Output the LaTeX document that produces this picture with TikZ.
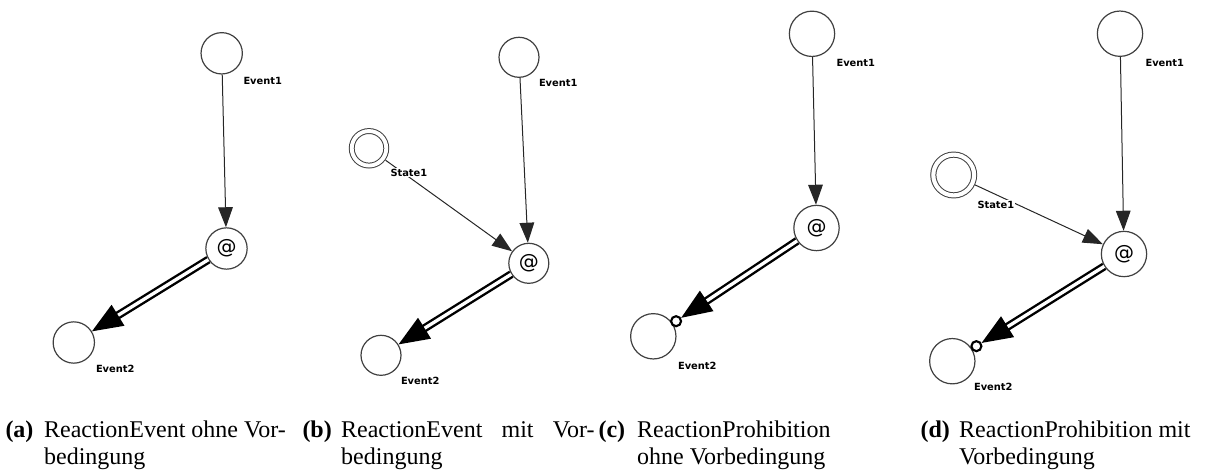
\documentclass[tikz,border=0pt]{standalone}
\usepackage{fontspec}
\setmainfont{Liberation Serif}
\newfontfamily\lblfont{DejaVu Sans}
\usetikzlibrary{arrows.meta,calc}

\tikzset{every picture/.style={line width=0.75pt}}
\tikzset{
  evt/.style={circle, draw=black!75, line width=0.9pt, minimum size=#1, inner sep=0pt},
  stt/.style 2 args={circle, draw=black!75, line width=0.75pt, double, double distance=#2, minimum size=#1, inner sep=0pt},
  atnode/.style={evt=#1, font=\lblfont\fontsize{15}{15}\selectfont},
  knob/.style={circle, draw, line width=1.6pt, fill=white, minimum size=7.5pt, inner sep=0pt},
  lbl/.style={anchor=west, inner sep=0.75pt, fill=white, font=\lblfont\bfseries\fontsize{7.4}{8}\selectfont},
  trig/.style={-{Triangle[length=15pt,width=11pt]}, line width=0.75pt, black!85},
  react/.style={double, double distance=2.5pt, line width=1.8pt, -{Triangle[length=23pt,width=18pt]}},
  capt/.style={anchor=base west, inner sep=0pt, font=\fontsize{18}{20.25}\selectfont},
}
\newcommand{\subtag}[1]{\makebox[29pt][l]{\textbf{(#1)}}}

\begin{document}
\begin{tikzpicture}[x=0.75pt,y=0.75pt,yscale=-1,xscale=1]
\useasboundingbox (0,0) rectangle (1205,471);

%Panel (a)
\node[evt=31pt] (e1a) at (221.7,53.3) {};
\node[atnode=31pt] (ata) at (226.5,248.5) {@};
\node[evt=31pt] (e2a) at (73.8,342.5) {};
\draw[trig] (e1a) -- (ata);
\draw[react] (ata) -- (e2a);
% Text Node
\node[lbl] (l1a) at (242,80.5) {Event1};
\node[lbl] (l2a) at (94.5,369) {Event2};

%Panel (b)
\node[evt=30pt] (e1b) at (519,57.3) {};
\node[stt={25.9pt}{2.9pt}] (s1b) at (369,148.3) {};
\node[atnode=30pt] (atb) at (528.8,263.3) {@};
\node[evt=30pt] (e2b) at (381,355.3) {};
\draw[trig] (e1b) -- (atb);
\draw[trig, shorten <=2pt] (s1b) -- (atb);
\draw[react] (atb) -- (e2b);
% Text Node
\node[lbl] (l1b) at (537.5,83) {Event1};
\node[lbl] (ls1b) at (389,172.5) {State1};
\node[lbl] (l2b) at (399.5,381) {Event2};

%Panel (c)
\node[evt=34pt] (e1c) at (812,33.8) {};
\node[atnode=34pt] (atc) at (816.5,228) {@};
\node[evt=34pt] (e2c) at (653.3,336.3) {};
\node[knob] (kc) at ($(e2c)!20.5pt!(atc)$) {};
\draw[trig] (e1c) -- (atc);
\draw[react] (atc) -- (kc);
% Text Node
\node[lbl] (l1c) at (835,63) {Event1};
\node[lbl] (l2c) at (676.5,365.7) {Event2};

%Panel (d)
\node[evt=34pt] (e1d) at (1120,33.7) {};
\node[stt={30.6pt}{3.1pt}] (s1d) at (953.7,175) {};
\node[atnode=34pt] (atd) at (1124,254) {@};
\node[evt=34pt] (e2d) at (952.3,361.2) {};
\node[knob] (kd) at ($(e2d)!21.3pt!(atd)$) {};
\draw[trig] (e1d) -- (atd);
\draw[trig, shorten <=2pt] (s1d) -- (atd);
\draw[react] (atd) -- (kd);
% Text Node
\node[lbl] (l1d) at (1144,63.3) {Event1};
\node[lbl] (ls1d) at (976,205) {State1};
\node[lbl] (l2d) at (972.5,387) {Event2};

% Captions
\node[capt] (capa) at (5,437) {\subtag{a}\begin{tabular}[t]{@{}l@{}}ReactionEvent ohne Vor-\\bedingung\end{tabular}};
\node[capt] (capb) at (302,437) {\subtag{b}\begin{tabular}[t]{@{}l@{}}\makebox[190pt][s]{ReactionEvent mit Vor-}\\bedingung\end{tabular}};
\node[capt] (capc) at (598,437) {\subtag{c}\begin{tabular}[t]{@{}l@{}}ReactionProhibition\\ohne Vorbedingung\end{tabular}};
\node[capt] (capd) at (920,437) {\subtag{d}\begin{tabular}[t]{@{}l@{}}ReactionProhibition mit\\Vorbedingung\end{tabular}};

\end{tikzpicture}
\end{document}
